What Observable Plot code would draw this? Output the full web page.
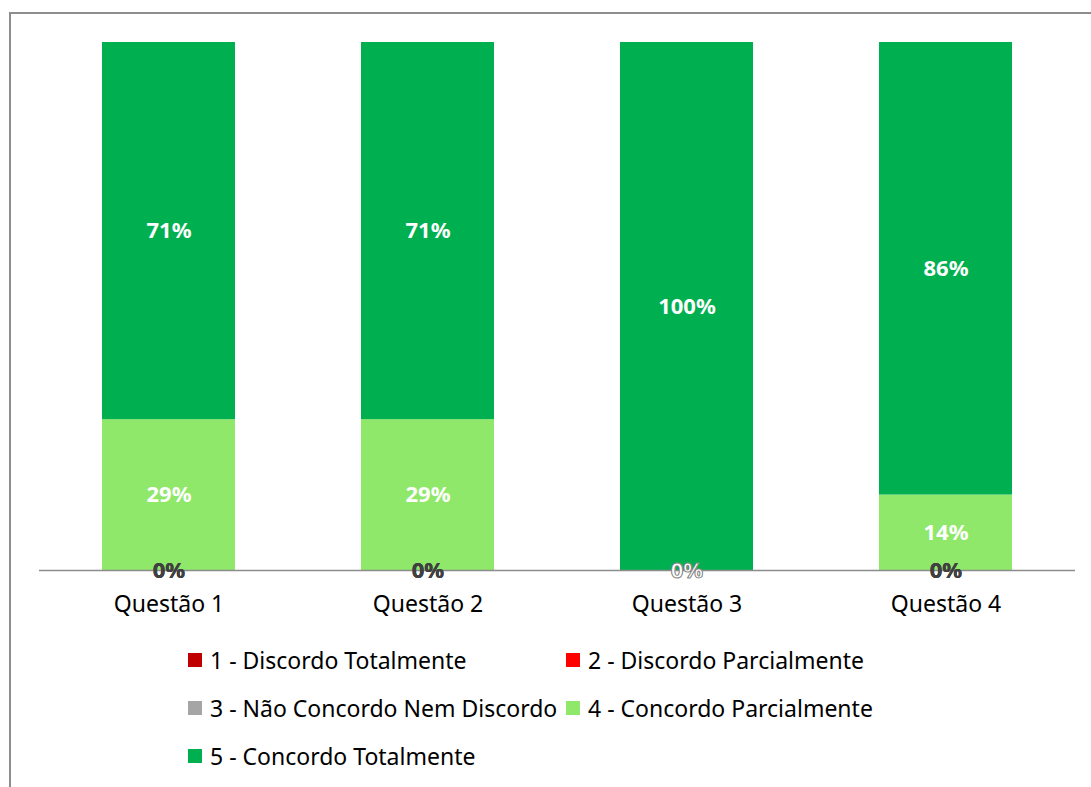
<!DOCTYPE html>
<html>
<head>
<meta charset="utf-8">
<script src="https://cdn.jsdelivr.net/npm/d3@7"></script>
<script src="https://cdn.jsdelivr.net/npm/@observablehq/plot@0.6"></script>
<style>
  html, body { margin: 0; padding: 0; background: #fff; overflow: hidden; }
  body { width: 1091px; height: 787px; position: relative; font-family: "Noto Sans", sans-serif; }
  #frame { position: absolute; left: 9px; top: 12px; width: 1200px; height: 900px; border: 2px solid #8e8e8e; box-sizing: border-box; }
  #chart { position: absolute; left: 0; top: 0; }
  #legend { position: absolute; left: 188px; top: 636px; display: grid; grid-template-columns: 378px 378px; grid-auto-rows: 48px; }
  .item { display: flex; align-items: center; font-size: 23px; color: #000; white-space: nowrap; }
  .sw { width: 14px; height: 14px; margin-right: 8px; flex: none; }
</style>
</head>
<body>
<div id="frame"></div>
<div id="chart"></div>
<div id="legend"></div>
<script>
const questions = ["Questão 1", "Questão 2", "Questão 3", "Questão 4"];
const series = [
  "1 - Discordo Totalmente",
  "2 - Discordo Parcialmente",
  "3 - Não Concordo Nem Discordo",
  "4 - Concordo Parcialmente",
  "5 - Concordo Totalmente"
];
const colors = ["#C00000", "#FF0000", "#A5A5A5", "#8FE86A", "#00B050"];
const s1 = [0, 0, 0, 0];
const s2 = [0, 0, 0, 0];
const s3 = [0, 0, 0, 0];
const s4 = [0.2857, 0.2857, 0, 0.1429];
const s5 = [0.7143, 0.7143, 1, 0.8571];

const seriesValues = [s1, s2, s3, s4, s5];
const data = [];
seriesValues.forEach((vals, si) => {
  vals.forEach((v, qi) => data.push({question: questions[qi], series: series[si], si, value: v}));
});
const fmt = d3.format(".0%");

const plot = Plot.plot({
  width: 1091,
  height: 620,
  marginLeft: 39,
  marginRight: 16,
  marginTop: 42,
  marginBottom: 50,
  style: {fontFamily: "'Noto Sans', sans-serif", color: "#000", background: "transparent"},
  x: {domain: questions, paddingInner: 0.486, paddingOuter: 0.243, label: null},
  y: {domain: [0, 1], axis: null},
  color: {domain: series, range: colors},
  marks: [
    Plot.barY(data, {x: "question", y: "value", z: "series", fill: "series", order: series, inset: 0}),
    Plot.ruleY([0], {stroke: "#8c8c8c", strokeWidth: 1.5}),
    Plot.text(data, Plot.stackY({x: "question", y: "value", z: "series", order: series,
      filter: d => d.si < 3, text: d => fmt(d.value), fill: "#404040", fontWeight: "bold", fontSize: 22, dy: 0})),
    Plot.text(data, Plot.stackY({x: "question", y: "value", z: "series", order: series,
      filter: d => d.si >= 3 && d.value > 0, text: d => fmt(d.value), fill: "#fff", fontWeight: "bold", fontSize: 22, dy: 0})),
    Plot.text(data, Plot.stackY({x: "question", y: "value", z: "series", order: series,
      filter: d => d.si >= 3 && d.value === 0, text: d => fmt(d.value), fill: "#fff", stroke: "#8a8a8a", strokeWidth: 0.9, paintOrder: "fill", fontWeight: "bold", fontSize: 22, dy: 0})),
    Plot.axisX({tickSize: 0, tickPadding: 25, fontSize: 23, label: null})
  ]
});
document.getElementById("chart").appendChild(plot);

const legend = document.getElementById("legend");
series.forEach((s, i) => {
  const item = document.createElement("div");
  item.className = "item";
  const sw = document.createElement("span");
  sw.className = "sw";
  sw.style.background = colors[i];
  item.appendChild(sw);
  item.appendChild(document.createTextNode(s));
  legend.appendChild(item);
});
</script>
</body>
</html>
